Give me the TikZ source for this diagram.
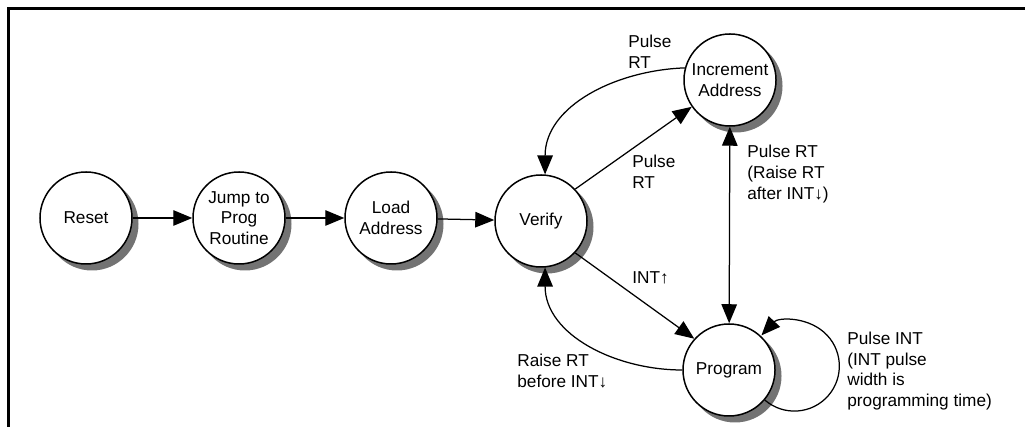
\documentclass[tikz,border=0pt]{standalone}
\usepackage{fontspec}
\setmainfont{Liberation Sans}
\usetikzlibrary{arrows.meta}

\tikzset{
  stnode/.style={circle,draw,line width=0.3mm,fill=white,minimum size=18.4mm,inner sep=0pt,align=center},
  shadowfill/.style={fill=black!55,draw=none},
  tip/.style={line width=0.25mm},
  arr/.style={tip,-{Triangle[length=3.8mm,width=3.1mm]}},
  arrboth/.style={tip,{Triangle[length=3.8mm,width=3.1mm]}-{Triangle[length=3.8mm,width=3.1mm]}},
  lbl/.style={anchor=west,align=left,inner sep=0pt}
}

\begin{document}
\begin{tikzpicture}[x=0.2mm,y=0.2mm,font=\fontsize{9.8}{11.8}\selectfont]
  \useasboundingbox (0,0) rectangle (1025,427);
  \draw[line width=0.6mm] (8,0) -- (8,418) -- (1025,418);
  % shadows first, states on top
  \foreach \x/\y in {86/209,239/209,391/209,541/206,730/347,729/57}
    \fill[shadowfill] (\x+6,\y-6) circle [radius=9.3mm];
  % states
  \node[stnode] (reset)  at (86,209)  {Reset};
  \node[stnode] (jump)   at (239,209) {Jump to\\Prog\\Routine};
  \node[stnode] (load)   at (391,209) {Load\\Address};
  \node[stnode] (verify) at (541,206) {Verify};
  \node[stnode] (incr)   at (730,347) {Increment\\Address};
  \node[stnode] (prog)   at (729,57)  {Program};
  % transitions
  \draw[arr] (reset) -- (jump);
  \draw[arr] (jump) -- (load);
  \draw[arr] (load) -- (verify);
  \draw[arr] (incr.165) to[out=182,in=90] (verify.85);
  \draw[arr] (verify.43) -- (incr.215);
  \draw[arrboth] (incr) -- (prog);
  \draw[arr] (verify.-43) -- (prog.138);
  \draw[arr] (prog.west) to[out=180,in=-90] (verify.-85);
  \draw[arr] (prog.-40) arc[start angle=-131,end angle=137,radius=9mm];
  % labels
  \node[lbl] (pulsea)   at (628,375) {Pulse\\RT};
  \node[lbl] (pulseb)   at (632,255) {Pulse\\RT};
  \node[lbl] (pulsec)   at (747,253) {Pulse RT\\(Raise RT\\after INT↓)};
  \node[lbl] (intup)    at (632,149) {INT↑};
  \node[lbl] (raise)    at (517,56)  {Raise RT\\before INT↓};
  \node[lbl] (pulseint) at (847,56)  {Pulse INT\\(INT pulse\\width is\\programming time)};
\end{tikzpicture}
\end{document}
